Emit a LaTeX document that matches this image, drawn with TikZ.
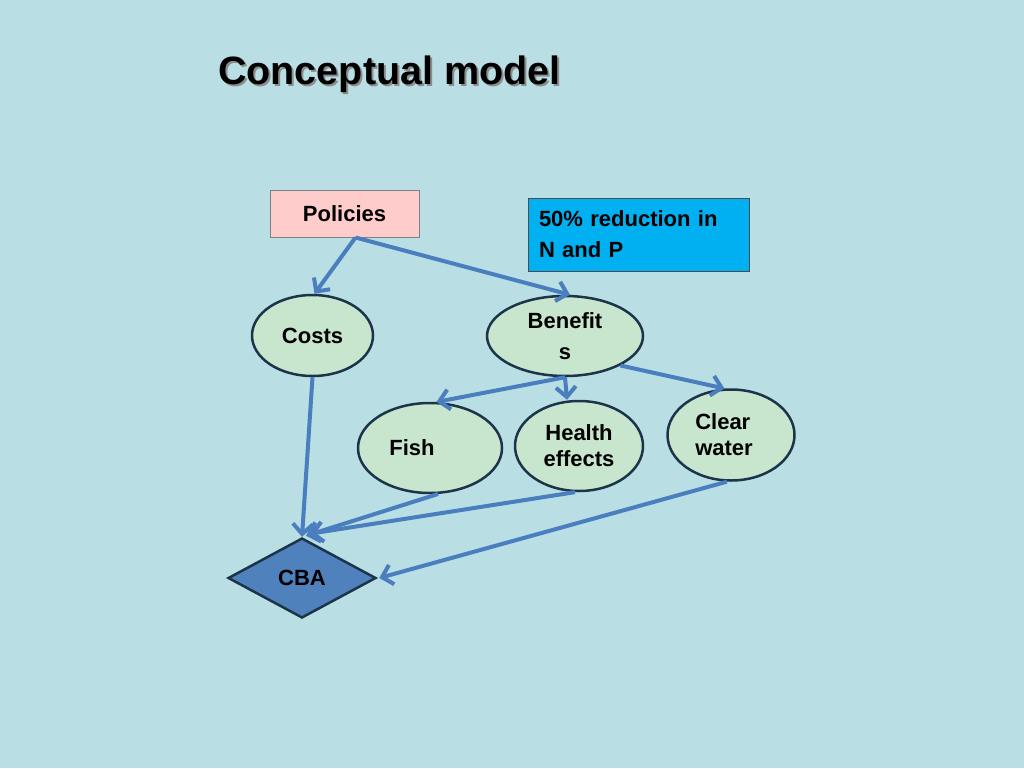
\documentclass[tikz,border=0pt]{standalone}
\usepackage{fontspec}
\setmainfont{Liberation Sans}
\usetikzlibrary{shapes.geometric,arrows.meta}
\definecolor{bg}{RGB}{185,223,228}
\definecolor{ellfill}{RGB}{200,230,206}
\definecolor{ellline}{RGB}{28,52,74}
\definecolor{arr}{RGB}{74,126,190}
\definecolor{pinkfill}{RGB}{255,204,204}
\definecolor{cyanfill}{RGB}{0,176,240}
\definecolor{cbafill}{RGB}{79,129,189}
\tikzset{
  txt/.style={font=\bfseries\fontsize{22}{31}\selectfont},
  ell/.style={ellipse, draw=ellline, line width=2.5pt, fill=ellfill, inner sep=0pt, txt},
  conn/.style={draw=arr, line width=4pt, -{Straight Barb[length=10pt,width=20pt]}},
}
\begin{document}
\begin{tikzpicture}[x=1pt,y=-1pt]
\fill[bg] (0,0) rectangle (1024,768);
\useasboundingbox (0,0) rectangle (1024,768);
% title
\node[anchor=base west, font=\bfseries\fontsize{39.5}{42}\selectfont, text=black!45, inner sep=0pt] at (220,86) {Conceptual model};
\node[anchor=base west, font=\bfseries\fontsize{39.5}{42}\selectfont, inner sep=0pt] (title) at (218,84) {Conceptual model};
% boxes
\node[draw=black!50, line width=1pt, fill=pinkfill, minimum width=149pt, minimum height=47pt, inner sep=0pt, txt] (pol) at (344.5,213.5) {Policies};
\node[draw=black!70, line width=1pt, fill=cyanfill, text width=199pt, inner xsep=11pt, inner ysep=0pt, minimum height=73pt, align=left, txt] (np) at (638.5,234.5) {50\% reduction in\\N and P};
% ellipses
\node[ell, minimum width=121pt, minimum height=81pt] (costs) at (312.5,335.5) {Costs};
\node[ell, minimum width=156pt, minimum height=80pt, align=center] (ben) at (565,336) {Benefit\\s};
\node[ell, minimum width=144pt, minimum height=90pt, label={[txt, xshift=-18pt]center:Fish}] (fish) at (430,448) {};
\node[ell, minimum width=128pt, minimum height=90pt, align=center, font=\bfseries\fontsize{22}{26}\selectfont] (health) at (579,446) {Health\\effects};
\node[ell, minimum width=127pt, minimum height=91pt, label={[txt, align=left, font=\bfseries\fontsize{22}{26}\selectfont, xshift=-7pt]center:{Clear\\water}}] (clear) at (731,435) {};
% diamond
\node[diamond, draw=ellline, line width=2.5pt, fill=cbafill, minimum width=148pt, minimum height=80pt, inner sep=0pt, aspect=1.85, txt] (cba) at (302,578) {CBA};
% connectors
\draw[conn] ([xshift=11pt]pol.south) -- ([xshift=2pt]costs.north);
\draw[conn] ([xshift=11pt]pol.south) -- ([xshift=5pt]ben.north);
\draw[conn] (ben.south) -- (fish.82);
\draw[conn] (ben.south) -- ([xshift=-12pt]health.north);
\draw[conn] (ben.-28) -- (clear.98);
\draw[conn] (costs.south) -- (cba.north);
\draw[conn] (fish.-80) -- ([xshift=4pt,yshift=1pt]cba.north);
\draw[conn] (health.-95) -- ([xshift=8pt,yshift=3pt]cba.north);
\draw[conn] (clear.-95) -- ([xshift=2pt]cba.east);
\end{tikzpicture}
\end{document}
